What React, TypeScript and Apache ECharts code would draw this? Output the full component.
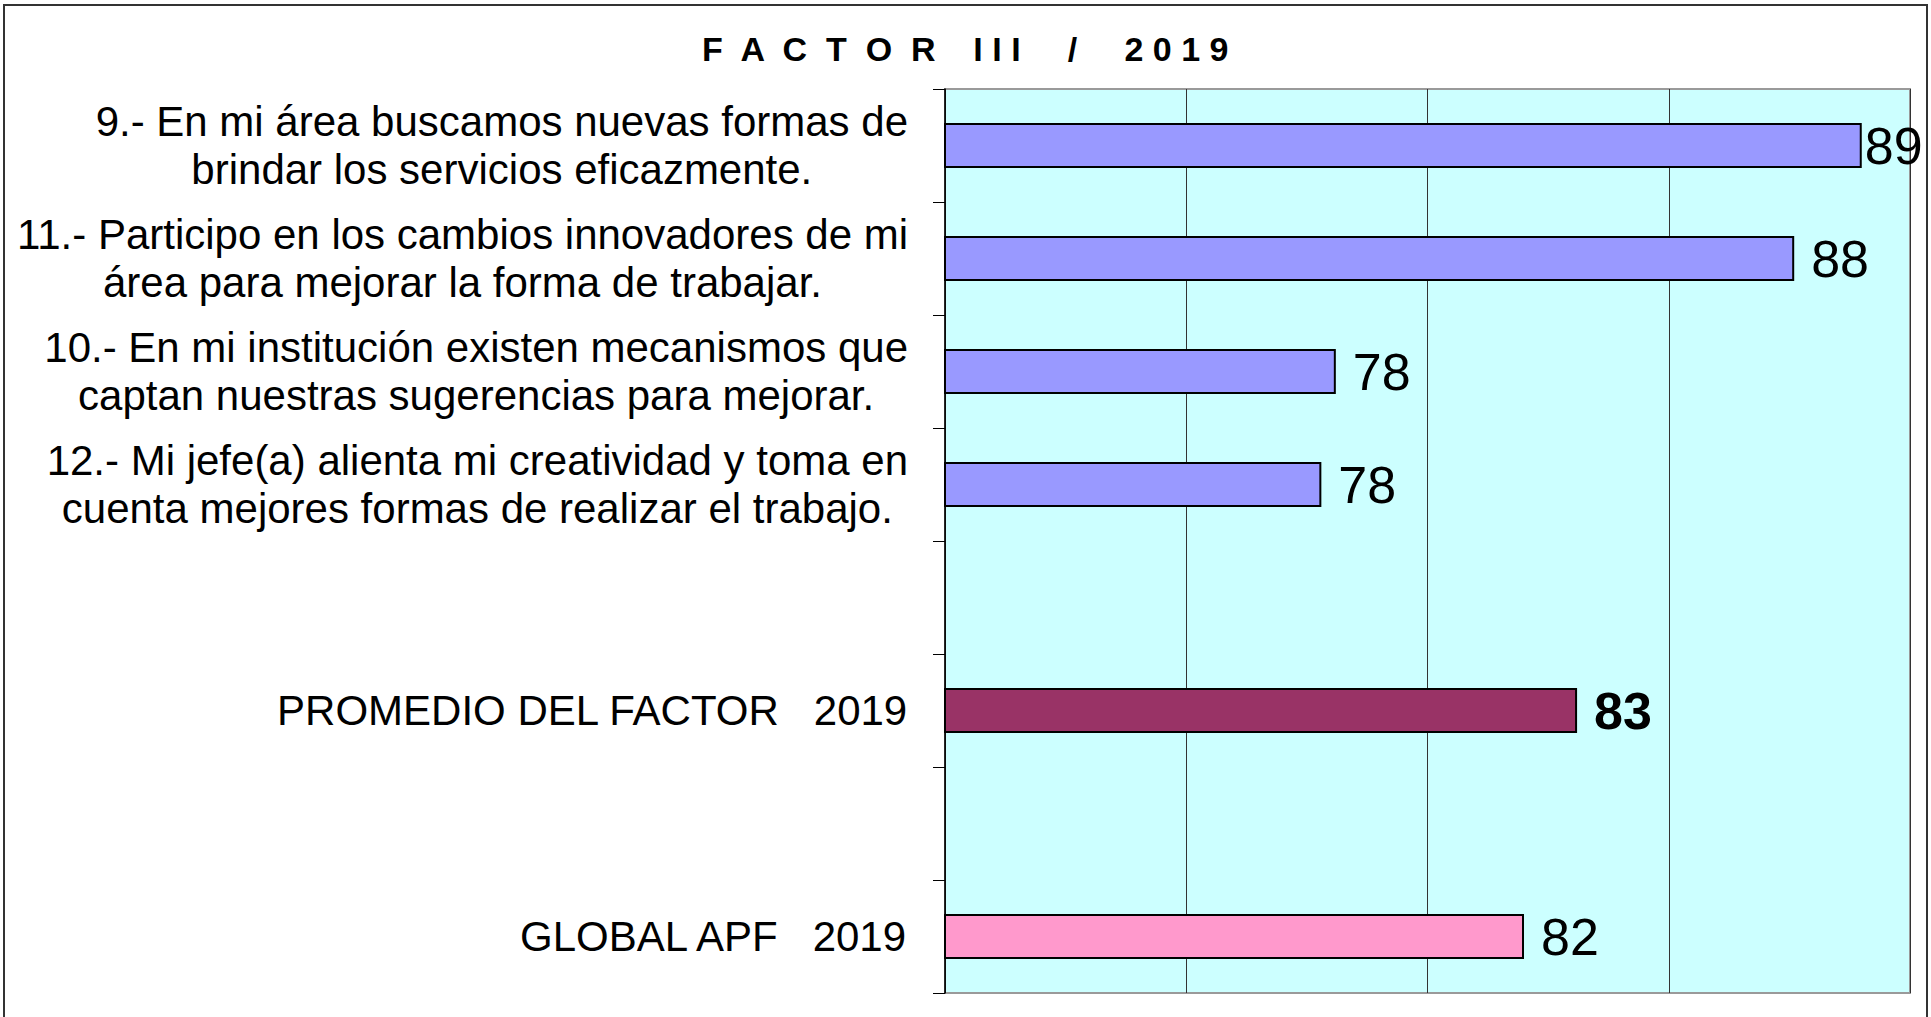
import React, { useEffect, useRef } from "react";
import * as echarts from "echarts";

const titleText = "F  A  C  T  O  R    I I I     /     2 0 1 9";

const categories: string[][] = [
  ["9.- En mi área buscamos nuevas formas de", "brindar los servicios eficazmente."],
  ["11.- Participo en los cambios innovadores de mi", "área para mejorar la forma de trabajar."],
  ["10.- En mi institución existen mecanismos que", "captan nuestras sugerencias para mejorar."],
  ["12.- Mi jefe(a) alienta mi creatividad y toma en", "cuenta mejores formas de realizar el trabajo."],
  [" "],
  ["PROMEDIO DEL FACTOR   2019"],
  ["  "],
  ["GLOBAL APF   2019"],
];

const values: (number | null)[] = [89.0, 87.6, 78.1, 77.8, null, 83.1, null, 82.0];
const barColors: string[] = ["#9999FF", "#9999FF", "#9999FF", "#9999FF", "#9999FF", "#993366", "#9999FF", "#FF99CC"];
const boldLabel: boolean[] = [false, false, false, false, false, true, false, false];
const labelGap: number[] = [3, 17, 17, 17, 17, 17, 17, 17];

const xMin = 70;
const xMax = 90;
const xInterval = 5;

const FONT = "'Liberation Sans', Arial, Helvetica, sans-serif";

export default function App() {
  const ref = useRef<HTMLDivElement>(null);
  useEffect(() => {
    if (!ref.current) return;
    const chart = echarts.init(ref.current, null, { renderer: "svg" });
    const catKeys = categories.map((c) => c.join("\n"));
    chart.setOption({
      animation: false,
      backgroundColor: "#ffffff",
      graphic: [
        {
          type: "rect",
          z: -10,
          shape: { x: 4, y: 5, width: 1923, height: 1040 },
          style: { fill: "none", stroke: "#333333", lineWidth: 2 },
        },
        {
          type: "text",
          x: 702,
          y: 49,
          style: {
            text: titleText,
            fill: "#000000",
            font: `bold 34px ${FONT}`,
            align: "left",
            verticalAlign: "middle",
          },
        },
      ],
      grid: {
        left: 945,
        right: 21,
        top: 89,
        bottom: 24,
        show: true,
        backgroundColor: "#CCFFFF",
        borderColor: "#9a9a9a",
        borderWidth: 2,
      },
      xAxis: {
        type: "value",
        min: xMin,
        max: xMax,
        interval: xInterval,
        axisLabel: { show: false },
        axisLine: { show: false },
        axisTick: { show: false },
        splitLine: { show: true, lineStyle: { color: "#333333", width: 1 } },
      },
      yAxis: {
        type: "category",
        inverse: true,
        data: catKeys,
        axisLine: { show: true, lineStyle: { color: "#000000", width: 1.5 } },
        axisTick: { show: true, length: 12, lineStyle: { color: "#000000", width: 1 } },
        splitLine: { show: false },
        axisLabel: {
          margin: 37,
          color: "#000000",
          fontFamily: FONT,
          fontSize: 42,
          lineHeight: 48,
          formatter: (v: string) =>
            v
              .split("\n")
              .map((line) => `{c|${line}}`)
              .join("\n"),
          rich: {
            c: {
              align: "center",
              fontFamily: FONT,
              fontSize: 42,
              lineHeight: 48,
              color: "#000000",
            },
          },
        },
      },
      series: [
        {
          type: "bar",
          barWidth: "40%",
          data: values.map((v, i) => ({
            value: v,
            itemStyle: { color: barColors[i], borderColor: "#000000", borderWidth: 2 },
            label: {
              show: v !== null,
              position: "right",
              distance: labelGap[i],
              fontFamily: FONT,
              fontSize: 52,
              fontWeight: boldLabel[i] ? "bold" : "normal",
              color: "#000000",
              formatter: (p: any) => String(Math.round(p.value)),
            },
          })),
        },
      ],
    });
    return () => chart.dispose();
  }, []);
  return (
    <div
      ref={ref}
      style={{ position: "fixed", left: 0, top: 0, width: 1931, height: 1017 }}
    />
  );
}
